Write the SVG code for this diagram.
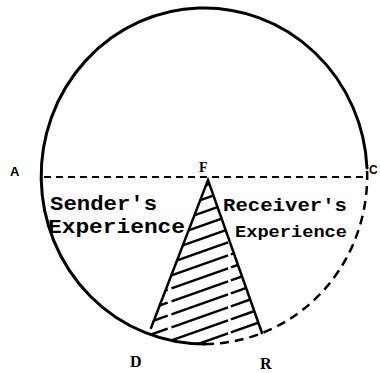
<svg xmlns="http://www.w3.org/2000/svg" width="380" height="373" viewBox="0 0 380 373">
<style>
.ln{fill:none;stroke:#000;stroke-width:3;stroke-linecap:round}
.dash{fill:none;stroke:#000;stroke-width:2.5;stroke-dasharray:9 6}
.hatch{stroke:#000;stroke-width:2.5;stroke-dasharray:40 4 60 3}
.lbl{font-family:"Liberation Serif",serif;font-weight:bold;fill:#000}
.sl{font-family:"Liberation Sans",sans-serif;font-weight:bold;fill:#000}
.txt{font-family:"Liberation Mono",monospace;font-weight:bold;fill:#000}
</style>
<defs>
<clipPath id="tri">
<path d="M208,180 L148,333 A163,168 0 0 0 262,333 Z"/>
</clipPath>
</defs>
<rect width="380" height="373" fill="#fff"/>
<g id="circle">
<path class="ln" d="M367,168 A163,168 0 1 0 205,344"/>
<path class="dash" d="M205,344 A163,168 0 0 0 367,168"/>
</g>
<g id="connectors">
<line class="dash" x1="44" y1="177" x2="364" y2="177" style="stroke-width:2;stroke-dasharray:7 5"/>
</g>
<g id="wedge">
<g clip-path="url(#tri)">
<line class="hatch" x1="130" y1="212" x2="280" y2="159"/>
<line class="hatch" x1="130" y1="225" x2="280" y2="172"/>
<line class="hatch" x1="130" y1="238" x2="280" y2="185"/>
<line class="hatch" x1="130" y1="251" x2="280" y2="198"/>
<line class="hatch" x1="130" y1="264" x2="280" y2="211"/>
<line class="hatch" x1="130" y1="277" x2="280" y2="224"/>
<line class="hatch" x1="130" y1="290" x2="280" y2="237"/>
<line class="hatch" x1="130" y1="303" x2="280" y2="250"/>
<line class="hatch" x1="130" y1="316" x2="280" y2="263"/>
<line class="hatch" x1="130" y1="329" x2="280" y2="276"/>
<line class="hatch" x1="130" y1="342" x2="280" y2="289"/>
<line class="hatch" x1="130" y1="355" x2="280" y2="302"/>
<line class="hatch" x1="130" y1="368" x2="280" y2="315"/>
<line class="hatch" x1="130" y1="381" x2="280" y2="328"/>
</g>
<path class="ln" d="M151,328 L208,180 L262,333" style="stroke-width:2.5"/>
</g>
<g id="labels">
<text class="sl" x="10" y="176" font-size="13">A</text>
<text class="sl" x="369" y="174" font-size="12">C</text>
<text class="lbl" x="199" y="172" font-size="14">F</text>
<text class="lbl" x="130" y="367" font-size="16">D</text>
<text class="lbl" x="260" y="369" font-size="16">R</text>
</g>
<g id="sender">
<text class="txt" x="50" y="210" font-size="20" textLength="107" lengthAdjust="spacingAndGlyphs">Sender's</text>
<text class="txt" x="48" y="233" font-size="20" textLength="137" lengthAdjust="spacingAndGlyphs">Experience</text>
</g>
<g id="receiver">
<text class="txt" x="223" y="211" font-size="18" textLength="124" lengthAdjust="spacingAndGlyphs">Receiver's</text>
<text class="txt" x="235" y="237" font-size="17" textLength="112" lengthAdjust="spacingAndGlyphs">Experience</text>
</g>
</svg>
